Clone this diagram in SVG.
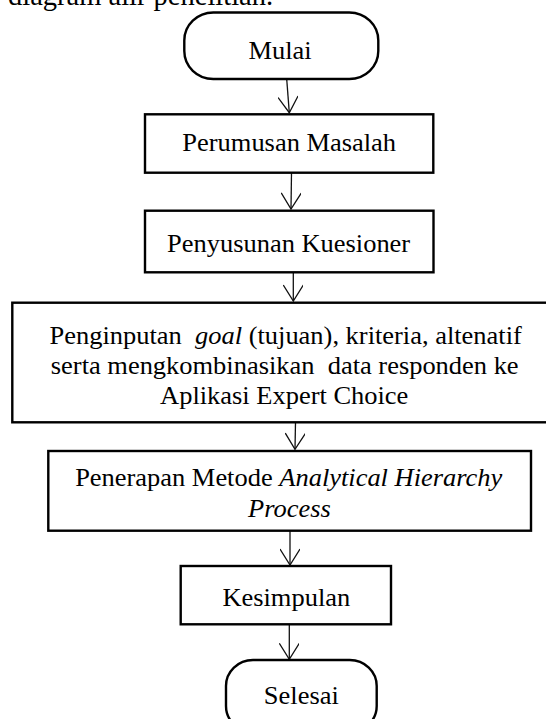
<svg xmlns="http://www.w3.org/2000/svg" width="546" height="719" viewBox="0 0 546 719">
<defs>
<style>
.box{fill:#fff;stroke:#000;stroke-width:2.4}
.t{font-family:"Liberation Serif","Times New Roman",serif;font-size:24.5px;fill:#000;text-anchor:middle}
.i{font-style:italic}
.c{fill:none;stroke:#111;stroke-width:1.3}
</style>
<marker id="ah" markerUnits="userSpaceOnUse" markerWidth="24" markerHeight="20" refX="20" refY="10" orient="auto" viewBox="0 0 24 20">
<path d="M4,0 L20,10 L4,20" fill="none" stroke="#111" stroke-width="1.3"/>
</marker>
</defs>
<rect width="546" height="719" fill="#fff"/>
<text class="t" style="text-anchor:start;font-size:28.5px" x="8" y="5">diagram alir penelitian.</text>
<g id="connectors">
<path class="c" d="M286.7,79 L289.3,112.7" marker-end="url(#ah)"/>
<path class="c" d="M291.5,172.7 L291,209" marker-end="url(#ah)"/>
<path class="c" d="M293.3,272.3 L293.3,301" marker-end="url(#ah)"/>
<path class="c" d="M295.5,422.3 L295,449.3" marker-end="url(#ah)"/>
<path class="c" d="M290,530.7 L290,565" marker-end="url(#ah)"/>
<path class="c" d="M289.3,624.3 L289.3,659.3" marker-end="url(#ah)"/>
</g>
<g id="mulai">
<rect class="box" x="184.3" y="12.5" width="194" height="66.5" rx="29" ry="28"/>
<text class="t" transform="translate(280,59.3) scale(1.08,1)">Mulai</text>
</g>
<g id="perumusan">
<rect class="box" x="145" y="114.3" width="288.3" height="58.4"/>
<text class="t" transform="translate(289.2,150.7) scale(1.08,1)">Perumusan Masalah</text>
</g>
<g id="penyusunan">
<rect class="box" x="145" y="210.7" width="288.5" height="61.6"/>
<text class="t" transform="translate(288.6,251.7) scale(1.08,1)">Penyusunan Kuesioner</text>
</g>
<g id="penginputan">
<rect class="box" x="12.3" y="302.7" width="545" height="119.6"/>
<text class="t" transform="translate(285.7,344) scale(1.08,1)">Penginputan&#160; <tspan class="i">goal</tspan> (tujuan), kriteria, altenatif</text>
<text class="t" transform="translate(284.7,374) scale(1.08,1)">serta mengkombinasikan&#160; data responden ke</text>
<text class="t" transform="translate(284.2,404) scale(1.08,1)">Aplikasi Expert Choice</text>
</g>
<g id="penerapan">
<rect class="box" x="48.3" y="451" width="482.7" height="79.7"/>
<text class="t" transform="translate(288.7,485.7) scale(1.08,1)">Penerapan Metode <tspan class="i">Analytical Hierarchy</tspan></text>
<text class="t i" transform="translate(289.5,517.3) scale(1.08,1)">Process</text>
</g>
<g id="kesimpulan">
<rect class="box" x="180.7" y="566" width="210.3" height="58.3"/>
<text class="t" transform="translate(286.3,605.7) scale(1.08,1)">Kesimpulan</text>
</g>
<g id="selesai">
<rect class="box" x="226" y="660" width="150.7" height="72" rx="27" ry="26"/>
<text class="t" transform="translate(301.3,704) scale(1.08,1)">Selesai</text>
</g>
</svg>
